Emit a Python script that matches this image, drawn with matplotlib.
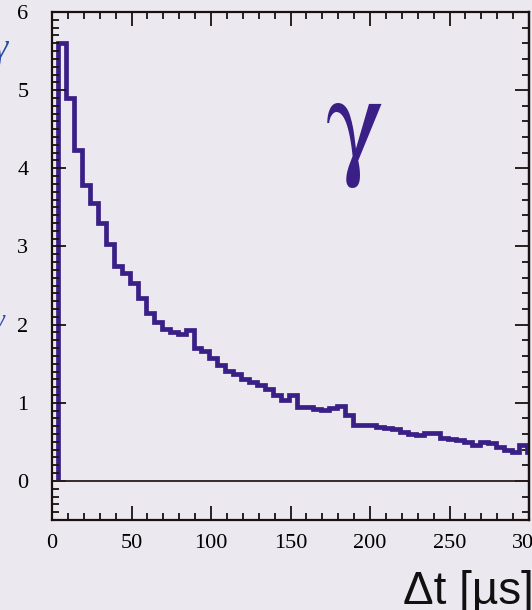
import numpy as np
import matplotlib
matplotlib.use("Agg")
import matplotlib.pyplot as plt
from matplotlib.ticker import MultipleLocator

# histogram contents, 5 us bins starting at 4 us
bin_start = 4
bin_width = 5
counts = [5.60, 4.90, 4.23, 3.79, 3.55, 3.30, 3.03, 2.75, 2.66, 2.53,
          2.34, 2.15, 2.03, 1.95, 1.91, 1.88, 1.93, 1.70, 1.66, 1.57,
          1.48, 1.41, 1.37, 1.30, 1.27, 1.23, 1.17, 1.10, 1.04, 1.10,
          0.95, 0.94, 0.92, 0.91, 0.93, 0.96, 0.84, 0.72, 0.72, 0.71,
          0.69, 0.68, 0.66, 0.63, 0.60, 0.59, 0.61, 0.61, 0.55, 0.54,
          0.52, 0.50, 0.46, 0.50, 0.49, 0.44, 0.40, 0.37, 0.46, 0.37]
xticks = [0, 50, 100, 150, 200, 250, 300]
yticks = [0, 1, 2, 3, 4, 5, 6]

bg = '#ece8ef'
ink = '#3a1f86'
plt.rcParams['mathtext.fontset'] = 'stix'

fig = plt.figure(figsize=(5.32, 6.10), dpi=100, facecolor=bg)
ax = fig.add_axes([52/532, 1-520/610, 477/532, 508/610], facecolor=bg)

counts = np.array(counts)
edges = bin_start + bin_width*np.arange(len(counts)+1)
ax.stairs(counts, edges, baseline=0, color=ink, lw=3.4)
ax.axhline(0, color='#2a1a1a', lw=1.3)

ax.set_xlim(0, 300)
ax.set_ylim(-0.5, 6)
ax.set_xticks(xticks)
ax.set_yticks(yticks)
ax.xaxis.set_minor_locator(MultipleLocator(10))
ax.yaxis.set_minor_locator(MultipleLocator(0.1))
ax.tick_params(which='both', direction='in', top=True, right=False, color='#1a1010', width=1.3)
ax.tick_params(which='major', length=10, labelsize=16, pad=10)
ax.tick_params(axis='y', which='major', pad=17)
ax.tick_params(which='minor', length=5)
for lbl in ax.get_xticklabels() + ax.get_yticklabels():
    lbl.set_family('Liberation Serif')
for s in ax.spines.values():
    s.set_linewidth(1.6)
    s.set_color('#1a1010')

# right side ticks are coarser
sec = ax.secondary_yaxis('right')
sec.yaxis.set_major_locator(MultipleLocator(1))
sec.yaxis.set_minor_locator(MultipleLocator(0.2))
sec.tick_params(which='both', direction='in', labelright=False, color='#1a1010', width=1.3)
sec.tick_params(which='major', length=10)
sec.tick_params(which='minor', length=5)
sec.spines['right'].set_linewidth(1.6)

ax.text(190, 4.5, r'$\mathrm{\gamma}$', fontsize=90, color=ink, ha='center', va='center')

fig.text(1.004, -0.006, 'Δt [µs]', fontsize=33, family='Liberation Sans',
         ha='right', va='bottom', color='#111111')
# cut-off pieces of the original axis title
fig.text(-0.012, 1-50/610, 'γ', fontsize=26, family='Liberation Serif', style='italic',
         color='#2a4aa8', ha='left', va='center')
fig.text(-0.012, 1-322/610, 'γ', fontsize=20, family='Liberation Serif', style='italic',
         color='#2a4aa8', ha='left', va='center')

fig.savefig('out.png', dpi=100, facecolor=bg)
